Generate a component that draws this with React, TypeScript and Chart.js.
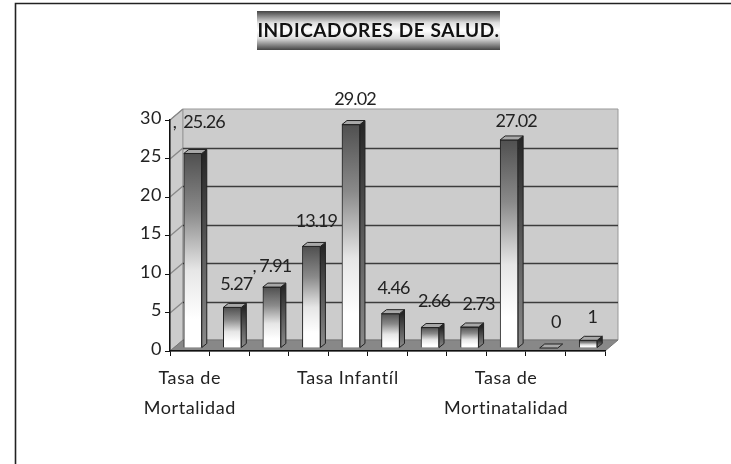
import React, { useEffect, useRef } from "react";
import { Chart, registerables } from "chart.js";

Chart.register(...registerables);

const categories: (string | string[])[] = [["Tasa de", "Mortalidad"], "", "", "", "Tasa Infantíl", "", "", "", ["Tasa de", "Mortinatalidad"], "", ""];
const values = [25.26, 5.27, 7.91, 13.19, 29.02, 4.46, 2.66, 2.73, 27.02, 0, 1];
const dataLabels = [",  25.26", "5.27", ", 7.91", "13.19", "29.02", "4.46", "2.66", "2.73", "27.02", "0", "1"];
const labelRise = [31, 23, 21, 25, 25, 25, 26, 23, 19, 26, 23];
const labelShift = [6, 4, 0, 5, 4, 3, 4, 9, 7, 7, 4];
const titleText = "INDICADORES DE SALUD.";

const FONT = "Lato, 'Open Sans', sans-serif";
const WALL = { dx: 13, dy: -11 };
const BAR_OFFSET = { dx: 3, dy: -3 };
const BAR_DEPTH = { dx: 5, dy: -4 };
const SPACING = "0.6px";

const walls = {
  id: "walls",
  afterLayout(chart: any) {
    chart.titleBlock.left = 152;
  },
  beforeDraw(chart: any) {
    const { ctx, chartArea: a, scales } = chart;
    (ctx as any).letterSpacing = SPACING;
    ctx.save();
    ctx.fillStyle = "#fff";
    ctx.fillRect(0, 0, chart.width, chart.height);
    // frame
    ctx.strokeStyle = "#222";
    ctx.lineWidth = 1.6;
    ctx.beginPath();
    ctx.moveTo(15.5, chart.height);
    ctx.lineTo(15.5, 3.5);
    ctx.lineTo(chart.width, 3.5);
    ctx.stroke();
    // title band
    const bx = 257, bw = 243, by = 11, bh = 39;
    const g = ctx.createLinearGradient(0, by, 0, by + bh);
    g.addColorStop(0, "#444");
    g.addColorStop(0.3, "#ddd");
    g.addColorStop(0.5, "#fff");
    g.addColorStop(0.7, "#ddd");
    g.addColorStop(1, "#444");
    ctx.fillStyle = g;
    ctx.fillRect(bx, by, bw, bh);
    // walls
    const poly = (pts: number[][], fill: string, stroke?: string) => {
      ctx.beginPath();
      pts.forEach((p, i) => (i ? ctx.lineTo(p[0], p[1]) : ctx.moveTo(p[0], p[1])));
      ctx.closePath();
      ctx.fillStyle = fill;
      ctx.fill();
      if (stroke) {
        ctx.strokeStyle = stroke;
        ctx.lineWidth = 1;
        ctx.stroke();
      }
    };
    const { left: l, right: r, top: t, bottom: b } = a;
    const { dx, dy } = WALL;
    poly([[l, t], [l + dx, t + dy], [l + dx, b + dy], [l, b]], "#cccccc", "#999");
    poly([[l + dx, t + dy], [r + dx, t + dy], [r + dx, b + dy], [l + dx, b + dy]], "#cccccc", "#999");
    poly([[l, b], [l + dx, b + dy], [r + dx, b + dy], [r, b]], "#888888", "#777");
    ctx.lineWidth = 1.3;
    scales.y.ticks.forEach((tk: any) => {
      const y = Math.round(scales.y.getPixelForValue(tk.value));
      if (tk.value === 0) return;
      ctx.strokeStyle = "#888";
      ctx.beginPath();
      ctx.moveTo(l, y);
      ctx.lineTo(l + dx, y + dy);
      ctx.stroke();
      if (tk.value === 30) return;
      ctx.strokeStyle = "#3c3c3c";
      ctx.beginPath();
      ctx.moveTo(l + dx, y + dy + 0.5);
      ctx.lineTo(r + dx, y + dy + 0.5);
      ctx.stroke();
    });
    ctx.restore();
  },
  beforeDatasetsDraw(chart: any) {
    chart.ctx.save();
    chart.ctx.translate(BAR_OFFSET.dx, BAR_OFFSET.dy);
  },
  afterDatasetsDraw(chart: any) {
    const { ctx } = chart;
    const meta = chart.getDatasetMeta(0);
    const { dx, dy } = BAR_DEPTH;
    meta.data.forEach((bar: any) => {
      const { x, y, base, width } = bar;
      const rx = x + width / 2, lx = x - width / 2;
      ctx.lineWidth = 1;
      ctx.strokeStyle = "#222";
      ctx.lineJoin = "round";
      // side
      if (base - y > 0) {
        const sg = ctx.createLinearGradient(0, y, 0, base);
        sg.addColorStop(0, "#262626");
        sg.addColorStop(0.55, "#606060");
        sg.addColorStop(1, "#8a8a8a");
        ctx.fillStyle = sg;
        ctx.beginPath();
        ctx.moveTo(rx, y);
        ctx.lineTo(rx + dx, y + dy);
        ctx.lineTo(rx + dx, base + dy);
        ctx.lineTo(rx, base);
        ctx.closePath();
        ctx.fill();
        ctx.stroke();
      }
      // top
      ctx.fillStyle = "#a8a8a8";
      ctx.beginPath();
      ctx.moveTo(lx, y);
      ctx.lineTo(lx + dx, y + dy);
      ctx.lineTo(rx + dx, y + dy);
      ctx.lineTo(rx, y);
      ctx.closePath();
      ctx.fill();
      ctx.stroke();
    });
    ctx.restore();
    // value labels
    ctx.save();
    ctx.font = `18px ${FONT}`;
    (ctx as any).letterSpacing = "-0.9px";
    ctx.fillStyle = "#222";
    ctx.textAlign = "center";
    ctx.textBaseline = "middle";
    meta.data.forEach((bar: any, i: number) => {
      ctx.fillText(dataLabels[i], bar.x + BAR_OFFSET.dx + labelShift[i], bar.y + BAR_OFFSET.dy - labelRise[i]);
    });
    ctx.restore();
  },
};

export default function App() {
  const ref = useRef<HTMLCanvasElement>(null);
  useEffect(() => {
    document.body.style.margin = "0";
    const chart = new Chart(ref.current as HTMLCanvasElement, {
      type: "bar",
      data: {
        labels: categories as any,
        datasets: [
          {
            data: values,
            barThickness: 18,
            borderWidth: 1,
            borderColor: "#222",
            backgroundColor: (c: any) => {
              const { chart: ch, parsed } = c;
              if (!parsed || !ch.scales.y) return "#ccc";
              const y0 = ch.scales.y.getPixelForValue(parsed.y);
              const y1 = ch.scales.y.getPixelForValue(0);
              if (!Number.isFinite(y0) || !Number.isFinite(y1)) return "#ccc";
              if (y1 - y0 < 1) return "#aaa";
              const g = ch.ctx.createLinearGradient(0, y0, 0, y1);
              g.addColorStop(0, "#505050");
              g.addColorStop(0.3, "#8a8a8a");
              g.addColorStop(0.6, "#e6e6e6");
              g.addColorStop(0.85, "#ffffff");
              g.addColorStop(1, "#ffffff");
              return g;
            },
          },
        ],
      },
      options: {
        animation: false,
        responsive: false,
        layout: { autoPadding: false, padding: { left: 120, right: 126, top: 0, bottom: 0 } },
        plugins: {
          legend: { display: false },
          tooltip: { enabled: false },
          title: {
            display: true,
            text: titleText,
            color: "#111",
            font: { family: FONT, size: 19, weight: "bold", lineHeight: 1.2 },
            padding: { top: 19, bottom: 78.2 },
          },
        },
        scales: {
          x: {
            afterFit: (s: any) => { s.height = 113; },
            grid: { drawOnChartArea: false, color: "#111", tickLength: 5, offset: true },
            border: { color: "#111", width: 1.5 },
            ticks: {
              autoSkip: false,
              maxRotation: 0,
              minRotation: 0,
              padding: 7,
              color: "#222",
              font: { family: FONT, size: 18, lineHeight: 1.667 },
            },
          },
          y: {
            min: 0,
            max: 30,
            afterFit: (s: any) => { s.width = 50; },
            grid: { drawOnChartArea: false, color: "#111", tickLength: 5 },
            border: { color: "#111", width: 1.5 },
            ticks: {
              stepSize: 5,
              padding: 3,
              labelOffset: -2,
              color: "#222",
              font: { family: FONT, size: 18 },
            },
          },
        },
      } as any,
      plugins: [walls],
    });
    return () => chart.destroy();
  }, []);
  return <canvas ref={ref} width={731} height={464} style={{ display: "block" }} />;
}
